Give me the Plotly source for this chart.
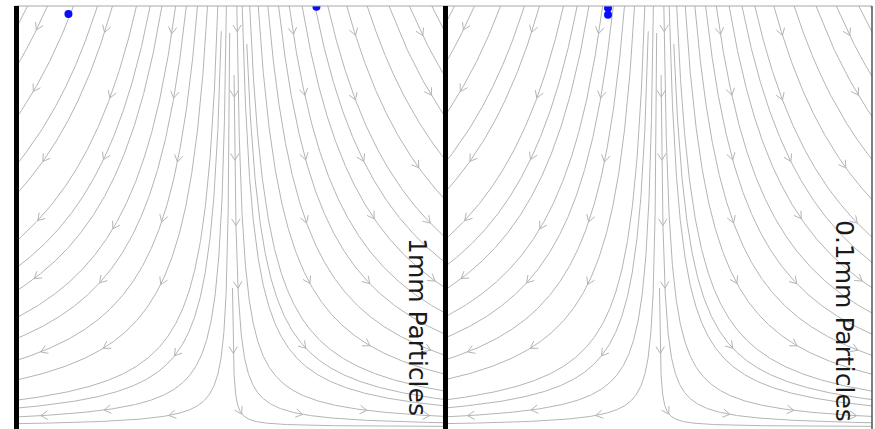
import numpy as np
import plotly.graph_objects as go

# ---- data (normalised flow units: wall at y=0, stagnation line at x=0) ----
# streamline constants c for x*y = c
left_c = [0.953, 0.86, 0.738, 0.626, 0.556, 0.444, 0.38, 0.325, 0.261, 0.211,
          0.159, 0.112, 0.064, 0.045, 0.024, 0.008]
left_start = [1, 1, 1, 1, 1, 1, 1, 1, 1, 1, 1, 1, 1, 0.94, 1, 0.936]
right_c = [0.99, 0.936, 0.831, 0.736, 0.634, 0.539, 0.45, 0.39, 0.33, 0.27,
           0.22, 0.17, 0.125, 0.085, 0.065, 0.05, 0.025, 0.01, 0.0015]
right_start = [1, 1, 1, 1, 1, 1, 1, 1, 1, 1, 1, 1, 1, 1, 0.91, 1, 1, 0.836, 0.33]

panel_labels = ["1mm Particles", "0.1mm Particles"]
particles_1mm_x = [-0.762, 0.397]
particles_1mm_y = [0.981, 0.998]
particles_01mm_x = [-0.236, -0.236]
particles_01mm_y = [0.995, 0.979]

# ---- geometry / style ----
W, H = 214.0, 421.0          # half-width and height of each panel (px units)
LINE_COL = "#b4b4b4"
FIG_W, FIG_H = 875, 429
TOP_PX = 6


def hyperbola(c, y_start, side):
    x0 = c / y_start
    t = np.linspace(np.log(x0), 0.0, 400)
    xn = np.exp(t)
    yn = c / xn
    return side * xn * W, yn * H


def build_panel():
    lines = []
    for c, s in zip(left_c, left_start):
        lines.append(hyperbola(c, s, -1))
    for c, s in zip(right_c, right_start):
        lines.append(hyperbola(c, s, 1))
    xs, ys = [], []
    for lx, ly in lines:
        xs += list(lx) + [None]
        ys += list(ly) + [None]
    # arrows: one per grid cell, snapped to nearest streamline
    ax, ay = [], []
    gx = np.arange(-188, 214, 64)
    gy = np.arange(397, 0, -64)
    for cx in gx:
        for cy in gy:
            best = None
            for lx, ly in lines:
                d = np.hypot(lx - cx, ly - cy)
                i = int(np.argmin(d))
                if best is None or d[i] < best[0]:
                    best = (d[i], lx, ly, i)
            dist, lx, ly, i = best
            if dist > 24:
                continue
            i = min(max(i, 1), len(lx) - 2)
            px, py = lx[i], ly[i]
            if abs(px) > 206 or py < 3 or py > H - 6:
                continue
            dx, dy = lx[i + 1] - lx[i - 1], ly[i + 1] - ly[i - 1]
            n = np.hypot(dx, dy)
            if n == 0:
                continue
            dx, dy = dx / n, dy / n
            L = 8.0
            ang = np.radians(32)
            tipx, tipy = px + 3 * dx, py + 3 * dy
            for a in (ang, -ang):
                bx = -dx * np.cos(a) + dy * np.sin(a)
                by = -dx * np.sin(a) - dy * np.cos(a)
                ax += [tipx + L * bx, tipx, None]
                ay += [tipy + L * by, tipy, None]
    return xs, ys, ax, ay


fig = go.Figure()
particles = [(particles_1mm_x, particles_1mm_y), (particles_01mm_x, particles_01mm_y)]
for k in range(2):
    xa = "x" if k == 0 else "x2"
    ya = "y" if k == 0 else "y2"
    xs, ys, ax, ay = build_panel()
    fig.add_trace(go.Scatter(x=xs, y=ys, mode="lines", xaxis=xa, yaxis=ya,
                             line=dict(color=LINE_COL, width=1), hoverinfo="skip"))
    fig.add_trace(go.Scatter(x=ax, y=ay, mode="lines", xaxis=xa, yaxis=ya,
                             line=dict(color=LINE_COL, width=1), hoverinfo="skip"))
    px_, py_ = particles[k]
    fig.add_trace(go.Scatter(x=[v * W for v in px_], y=[v * H for v in py_],
                             mode="markers", xaxis=xa, yaxis=ya,
                             marker=dict(color="#0a0aff", size=8)))

ytop_dom = (FIG_H - TOP_PX) / FIG_H
mid = 445.5 / FIG_W
fig.update_layout(
    width=FIG_W, height=FIG_H, margin=dict(l=0, r=0, t=0, b=0),
    paper_bgcolor="white", plot_bgcolor="white", showlegend=False,
    hovermode=False,
    xaxis=dict(domain=[0, mid], range=[-231.5, 214], visible=False),
    xaxis2=dict(domain=[mid, 1], range=[-213, 216.5], visible=False),
    yaxis=dict(domain=[0, ytop_dom], range=[-2, H], visible=False, anchor="x"),
    yaxis2=dict(domain=[0, ytop_dom], range=[-2, H], visible=False, anchor="x2"),
)

shapes = [
    dict(type="line", xref="paper", yref="paper", x0=15 / FIG_W, x1=872 / FIG_W,
         y0=ytop_dom, y1=ytop_dom, line=dict(color="#a8a8a8", width=1)),
    dict(type="line", xref="paper", yref="paper", x0=16.5 / FIG_W, x1=16.5 / FIG_W,
         y0=0, y1=ytop_dom, line=dict(color="black", width=5)),
    dict(type="line", xref="paper", yref="paper", x0=mid, x1=mid,
         y0=0, y1=ytop_dom, line=dict(color="black", width=5)),
    dict(type="line", xref="paper", yref="paper", x0=872 / FIG_W, x1=872 / FIG_W,
         y0=0, y1=ytop_dom, line=dict(color="#555555", width=1.5)),
]
fig.update_layout(shapes=shapes)

label_pos = [(418, 327), (845, 321)]
for text, (lx, ly) in zip(panel_labels, label_pos):
    fig.add_annotation(text=text, xref="paper", yref="paper",
                       x=lx / FIG_W, y=(FIG_H - ly) / FIG_H, showarrow=False,
                       textangle=90, xanchor="center", yanchor="middle",
                       font=dict(family="DejaVu Sans", size=25, color="#1a1a1a"))

fig.write_html("out.html", config={"displayModeBar": False, "staticPlot": True},
               post_script="document.body.style.margin='0';document.body.style.overflow='hidden';")
